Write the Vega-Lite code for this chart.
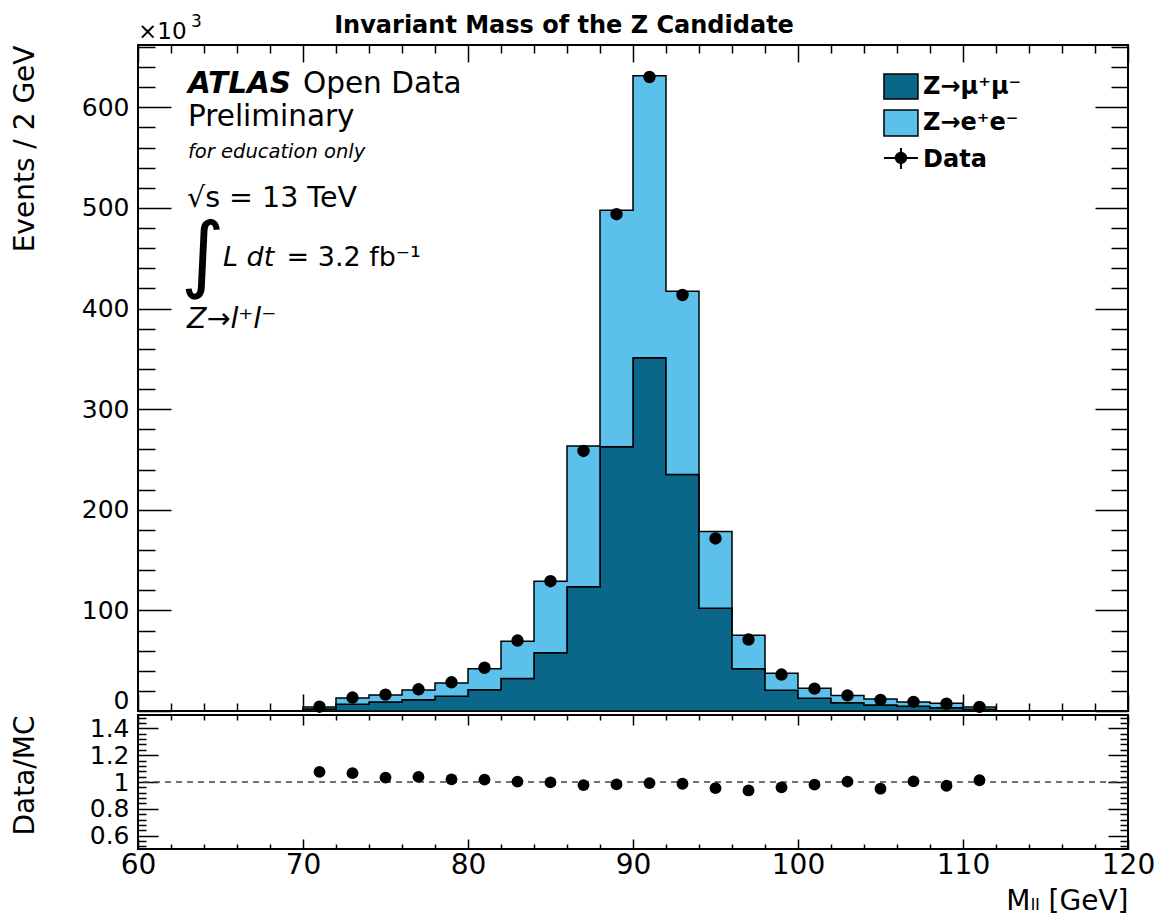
{
  "$schema": "https://vega.github.io/schema/vega-lite/v6.json",
  "background": "white",
  "padding": {"left": 10, "top": 11, "right": 5, "bottom": 0},
  "spacing": 4,
  "bounds": "flush",
  "datasets": {
    "bins": [
      {"lo": 60, "mid": 61, "mumu": 0, "ee": 0, "data": 0, "ratio": null},
      {"lo": 62, "mid": 63, "mumu": 0, "ee": 0, "data": 0, "ratio": null},
      {"lo": 64, "mid": 65, "mumu": 0, "ee": 0, "data": 0, "ratio": null},
      {"lo": 66, "mid": 67, "mumu": 0, "ee": 0, "data": 0, "ratio": null},
      {"lo": 68, "mid": 69, "mumu": 0, "ee": 0, "data": 0, "ratio": null},
      {"lo": 70, "mid": 71, "mumu": 2.0, "ee": 2.0, "data": 4.3, "ratio": 1.076},
      {"lo": 72, "mid": 73, "mumu": 6.6, "ee": 6.3, "data": 13.4, "ratio": 1.066},
      {"lo": 74, "mid": 75, "mumu": 9.0, "ee": 6.9, "data": 16.3, "ratio": 1.033},
      {"lo": 76, "mid": 77, "mumu": 11.3, "ee": 9.6, "data": 21.6, "ratio": 1.038},
      {"lo": 78, "mid": 79, "mumu": 14.6, "ee": 13.3, "data": 28.5, "ratio": 1.020},
      {"lo": 80, "mid": 81, "mumu": 21.2, "ee": 20.9, "data": 43.0, "ratio": 1.018},
      {"lo": 82, "mid": 83, "mumu": 32.2, "ee": 37.1, "data": 70.0, "ratio": 1.003},
      {"lo": 84, "mid": 85, "mumu": 57.8, "ee": 71.2, "data": 129.0, "ratio": 0.997},
      {"lo": 86, "mid": 87, "mumu": 123.5, "ee": 140.0, "data": 258.5, "ratio": 0.977},
      {"lo": 88, "mid": 89, "mumu": 262.7, "ee": 235.1, "data": 493.8, "ratio": 0.982},
      {"lo": 90, "mid": 91, "mumu": 351.2, "ee": 280.2, "data": 630.2, "ratio": 0.992},
      {"lo": 92, "mid": 93, "mumu": 235.0, "ee": 182.3, "data": 413.5, "ratio": 0.987},
      {"lo": 94, "mid": 95, "mumu": 102.1, "ee": 76.4, "data": 171.5, "ratio": 0.954},
      {"lo": 96, "mid": 97, "mumu": 42.1, "ee": 33.3, "data": 71.0, "ratio": 0.937},
      {"lo": 98, "mid": 99, "mumu": 20.6, "ee": 16.9, "data": 36.2, "ratio": 0.960},
      {"lo": 100, "mid": 101, "mumu": 12.6, "ee": 10.0, "data": 22.2, "ratio": 0.980},
      {"lo": 102, "mid": 103, "mumu": 8.3, "ee": 7.0, "data": 15.5, "ratio": 1.003},
      {"lo": 104, "mid": 105, "mumu": 6.0, "ee": 5.9, "data": 11.1, "ratio": 0.950},
      {"lo": 106, "mid": 107, "mumu": 4.6, "ee": 4.4, "data": 9.1, "ratio": 1.005},
      {"lo": 108, "mid": 109, "mumu": 3.3, "ee": 4.3, "data": 7.2, "ratio": 0.972},
      {"lo": 110, "mid": 111, "mumu": 1.7, "ee": 2.3, "data": 4.1, "ratio": 1.013},
      {"lo": 112, "mid": 113, "mumu": 0, "ee": 0, "data": 0, "ratio": null},
      {"lo": 114, "mid": 115, "mumu": 0, "ee": 0, "data": 0, "ratio": null},
      {"lo": 116, "mid": 117, "mumu": 0, "ee": 0, "data": 0, "ratio": null},
      {"lo": 118, "mid": 119, "mumu": 0, "ee": 0, "data": 0, "ratio": null}
    ]
  },
  "vconcat": [
    {
      "width": 990,
      "height": 666,
      "layer": [
        {
          "data": {"name": "bins"},
          "transform": [{"fold": ["mumu", "ee"], "as": ["process", "events"]}],
          "mark": {"type": "area", "interpolate": "step-after", "stroke": "black", "strokeWidth": 1.5, "opacity": 1},
          "encoding": {
            "x": {"field": "lo", "type": "quantitative", "scale": {"domain": [60, 120], "nice": false, "zero": false},
              "axis": {"orient": "bottom", "values": [60,62,64,66,68,70,72,74,76,78,80,82,84,86,88,90,92,94,96,98,100,102,104,106,108,110,112,114,116,118,120],
                "labels": false, "title": null,
                "tickSize": {"condition": {"test": "datum.value % 10 === 0", "value": -17}, "value": -8}}},
            "y": {"field": "events", "type": "quantitative", "stack": "zero", "scale": {"domain": [0, 662], "nice": false},
              "axis": {"orient": "left", "values": [0,20,40,60,80,100,120,140,160,180,200,220,240,260,280,300,320,340,360,380,400,420,440,460,480,500,520,540,560,580,600,620,640,660],
                "format": "d", "labelExpr": "datum.value % 100 === 0 ? datum.label : ''", "labelFontSize": 25, "labelPadding": 42,
                "labelBaseline": {"condition": {"test": "datum.value === 0", "value": "alphabetic"}, "value": "middle"},
                "labelOffset": {"condition": {"test": "datum.value === 0", "value": -3}, "value": 0},
                "tickSize": {"condition": {"test": "datum.value % 100 === 0", "value": -33}, "value": -17},
                "title": "Events / 2 GeV", "titleFontSize": 28, "titleAnchor": "end", "titleX": -105, "titleBaseline": "alphabetic"}},
            "color": {"field": "process", "type": "nominal", "scale": {"domain": ["mumu", "ee"], "range": ["#0b6789", "#5bc1eb"]}, "legend": null},
            "order": {"field": "process", "sort": "descending"}
          }
        },
        {
          "data": {"name": "bins"},
          "mark": {"type": "point", "opacity": 0},
          "encoding": {
            "x": {"field": "mid", "type": "quantitative", "scale": {"domain": [60, 120], "nice": false, "zero": false},
              "axis": {"orient": "top", "values": [60,62,64,66,68,70,72,74,76,78,80,82,84,86,88,90,92,94,96,98,100,102,104,106,108,110,112,114,116,118,120],
                "labels": false, "title": null,
                "tickSize": {"condition": {"test": "datum.value % 10 === 0", "value": -17}, "value": -8}}},
            "y": {"field": "data", "type": "quantitative", "scale": {"domain": [0, 662], "nice": false},
              "axis": {"orient": "right", "values": [0,20,40,60,80,100,120,140,160,180,200,220,240,260,280,300,320,340,360,380,400,420,440,460,480,500,520,540,560,580,600,620,640,660],
                "labels": false, "title": null,
                "tickSize": {"condition": {"test": "datum.value % 100 === 0", "value": -33}, "value": -17}}}
          }
        },
        {
          "data": {"name": "bins"},
          "transform": [{"filter": "datum.data > 0"}],
          "mark": {"type": "point", "filled": true, "color": "black", "size": 154, "opacity": 1},
          "encoding": {
            "x": {"field": "mid", "type": "quantitative", "axis": null},
            "y": {"field": "data", "type": "quantitative", "axis": null}
          }
        },
        {
          "data": {"values": [{}]},
          "mark": {"type": "text", "text": "Invariant Mass of the Z Candidate", "font": "DejaVu Sans", "fontWeight": "bold", "fontSize": 24, "align": "center", "baseline": "alphabetic", "color": "black"},
          "encoding": {"x": {"datum": 85.82, "type": "quantitative", "axis": null}, "y": {"datum": 673.9, "type": "quantitative", "axis": null}}
        },
        {
          "data": {"values": [{}]},
          "mark": {"type": "text", "text": "×10", "font": "DejaVu Sans", "fontSize": 23, "align": "left", "baseline": "alphabetic", "color": "black"},
          "encoding": {"x": {"datum": 60, "type": "quantitative", "axis": null}, "y": {"datum": 668.0, "type": "quantitative", "axis": null}}
        },
        {
          "data": {"values": [{}]},
          "mark": {"type": "text", "text": "3", "font": "DejaVu Sans", "fontSize": 17, "align": "left", "baseline": "alphabetic", "color": "black"},
          "encoding": {"x": {"datum": 63.21, "type": "quantitative", "axis": null}, "y": {"datum": 679.9, "type": "quantitative", "axis": null}}
        },
        {
          "data": {"values": [{}]},
          "mark": {"type": "text", "text": "ATLAS", "font": "DejaVu Sans", "fontWeight": "bold", "fontStyle": "italic", "fontSize": 29.5, "align": "left", "baseline": "alphabetic", "color": "black"},
          "encoding": {"x": {"datum": 63.03, "type": "quantitative", "axis": null}, "y": {"datum": 614.3, "type": "quantitative", "axis": null}}
        },
        {
          "data": {"values": [{}]},
          "mark": {"type": "text", "text": "Open Data", "font": "DejaVu Sans", "fontSize": 29.5, "align": "left", "baseline": "alphabetic", "color": "black"},
          "encoding": {"x": {"datum": 70.0, "type": "quantitative", "axis": null}, "y": {"datum": 614.3, "type": "quantitative", "axis": null}}
        },
        {
          "data": {"values": [{}]},
          "mark": {"type": "text", "text": "Preliminary", "font": "DejaVu Sans", "fontSize": 29.5, "align": "left", "baseline": "alphabetic", "color": "black"},
          "encoding": {"x": {"datum": 63.03, "type": "quantitative", "axis": null}, "y": {"datum": 581.5, "type": "quantitative", "axis": null}}
        },
        {
          "data": {"values": [{}]},
          "mark": {"type": "text", "text": "for education only", "font": "DejaVu Sans", "fontStyle": "italic", "fontSize": 19.5, "align": "left", "baseline": "alphabetic", "color": "black"},
          "encoding": {"x": {"datum": 63.03, "type": "quantitative", "axis": null}, "y": {"datum": 549.7, "type": "quantitative", "axis": null}}
        },
        {
          "data": {"values": [{}]},
          "mark": {"type": "text", "text": "√s = 13 TeV", "font": "DejaVu Sans", "fontSize": 28.5, "align": "left", "baseline": "alphabetic", "color": "black"},
          "encoding": {"x": {"datum": 62.97, "type": "quantitative", "axis": null}, "y": {"datum": 501.0, "type": "quantitative", "axis": null}}
        },
        {
          "data": {"values": [{}]},
          "mark": {"type": "text", "text": "∫", "font": "DejaVu Sans", "fontSize": 84, "align": "left", "baseline": "alphabetic", "color": "black"},
          "encoding": {"x": {"datum": 62.6, "type": "quantitative", "axis": null}, "y": {"datum": 426.4, "type": "quantitative", "axis": null}}
        },
        {
          "data": {"values": [{}]},
          "mark": {"type": "text", "text": "L dt", "font": "DejaVu Sans", "fontStyle": "italic", "fontSize": 27, "align": "left", "baseline": "alphabetic", "color": "black"},
          "encoding": {"x": {"datum": 65.15, "type": "quantitative", "axis": null}, "y": {"datum": 442.3, "type": "quantitative", "axis": null}}
        },
        {
          "data": {"values": [{}]},
          "mark": {"type": "text", "text": "= 3.2 fb⁻¹", "font": "DejaVu Sans", "fontSize": 27, "align": "left", "baseline": "alphabetic", "color": "black"},
          "encoding": {"x": {"datum": 69.0, "type": "quantitative", "axis": null}, "y": {"datum": 442.3, "type": "quantitative", "axis": null}}
        },
        {
          "data": {"values": [{}]},
          "mark": {"type": "text", "text": "Z→l⁺l⁻", "font": "DejaVu Sans", "fontStyle": "italic", "fontSize": 28.5, "align": "left", "baseline": "alphabetic", "color": "black"},
          "encoding": {"x": {"datum": 62.97, "type": "quantitative", "axis": null}, "y": {"datum": 380.7, "type": "quantitative", "axis": null}}
        },
        {
          "data": {"values": [{}]},
          "mark": {"type": "rect", "fill": "#0b6789", "stroke": "black", "strokeWidth": 1.5},
          "encoding": {"x": {"datum": 105.21, "type": "quantitative", "axis": null}, "x2": {"datum": 107.27}, "y": {"datum": 633.2, "type": "quantitative", "axis": null}, "y2": {"datum": 608.3}}
        },
        {
          "data": {"values": [{}]},
          "mark": {"type": "rect", "fill": "#5bc1eb", "stroke": "black", "strokeWidth": 1.5},
          "encoding": {"x": {"datum": 105.21, "type": "quantitative", "axis": null}, "x2": {"datum": 107.27}, "y": {"datum": 597.4, "type": "quantitative", "axis": null}, "y2": {"datum": 571.6}}
        },
        {
          "data": {"values": [{}]},
          "mark": {"type": "rule", "color": "black", "strokeWidth": 2},
          "encoding": {"x": {"datum": 105.21, "type": "quantitative", "axis": null}, "x2": {"datum": 107.27}, "y": {"datum": 549.7, "type": "quantitative", "axis": null}}
        },
        {
          "data": {"values": [{}]},
          "mark": {"type": "rule", "color": "black", "strokeWidth": 2},
          "encoding": {"x": {"datum": 106.24, "type": "quantitative", "axis": null}, "y": {"datum": 559.6, "type": "quantitative", "axis": null}, "y2": {"datum": 538.8}}
        },
        {
          "data": {"values": [{}]},
          "mark": {"type": "point", "filled": true, "color": "black", "size": 154, "opacity": 1},
          "encoding": {"x": {"datum": 106.24, "type": "quantitative", "axis": null}, "y": {"datum": 549.7, "type": "quantitative", "axis": null}}
        },
        {
          "data": {"values": [{}]},
          "mark": {"type": "text", "text": "Z→μ⁺μ⁻", "font": "DejaVu Sans", "fontWeight": "bold", "fontSize": 24, "align": "left", "baseline": "alphabetic", "color": "black"},
          "encoding": {"x": {"datum": 107.58, "type": "quantitative", "axis": null}, "y": {"datum": 613.0, "type": "quantitative", "axis": null}}
        },
        {
          "data": {"values": [{}]},
          "mark": {"type": "text", "text": "Z→e⁺e⁻", "font": "DejaVu Sans", "fontWeight": "bold", "fontSize": 24, "align": "left", "baseline": "alphabetic", "color": "black"},
          "encoding": {"x": {"datum": 107.58, "type": "quantitative", "axis": null}, "y": {"datum": 577.2, "type": "quantitative", "axis": null}}
        },
        {
          "data": {"values": [{}]},
          "mark": {"type": "text", "text": "Data", "font": "DejaVu Sans", "fontWeight": "bold", "fontSize": 24, "align": "left", "baseline": "alphabetic", "color": "black"},
          "encoding": {"x": {"datum": 107.58, "type": "quantitative", "axis": null}, "y": {"datum": 541.0, "type": "quantitative", "axis": null}}
        }
      ],
      "resolve": {"axis": {"x": "independent", "y": "independent"}}
    },
    {
      "width": 990,
      "height": 134,
      "layer": [
        {
          "data": {"values": [{}]},
          "mark": {"type": "rule", "color": "#444444", "strokeWidth": 1.5, "strokeDash": [6, 5]},
          "encoding": {"y": {"datum": 1, "type": "quantitative", "axis": null}}
        },
        {
          "data": {"name": "bins"},
          "transform": [{"filter": "isValid(datum.ratio)"}],
          "mark": {"type": "point", "filled": true, "color": "black", "size": 140, "opacity": 1},
          "encoding": {
            "x": {"field": "mid", "type": "quantitative", "scale": {"domain": [60, 120], "nice": false, "zero": false},
              "axis": {"orient": "bottom", "values": [60,62,64,66,68,70,72,74,76,78,80,82,84,86,88,90,92,94,96,98,100,102,104,106,108,110,112,114,116,118,120],
                "format": "d", "labelExpr": "datum.value % 10 === 0 ? datum.label : ''", "labelFontSize": 28, "labelPadding": 12,
                "tickSize": {"condition": {"test": "datum.value % 10 === 0", "value": -10}, "value": -5},
                "title": "Mₗₗ [GeV]", "titleFontSize": 28, "titleAnchor": "end", "titlePadding": 3}},
            "y": {"field": "ratio", "type": "quantitative", "scale": {"domain": [0.5, 1.5], "nice": false, "zero": false},
              "axis": {"orient": "left", "values": [0.52,0.56,0.6,0.64,0.68,0.72,0.76,0.8,0.84,0.88,0.92,0.96,1,1.04,1.08,1.12,1.16,1.2,1.24,1.28,1.32,1.36,1.4,1.44,1.48],
                "format": "~g", "labelExpr": "indexof([0.6, 0.8, 1, 1.2, 1.4], datum.value) >= 0 ? datum.label : ''", "labelFontSize": 25, "labelPadding": 29,
                "tickSize": {"condition": {"test": "indexof([0.6, 0.8, 1, 1.2, 1.4], datum.value) >= 0", "value": -20}, "value": -8},
                "title": "Data/MC", "titleFontSize": 28, "titleAnchor": "end", "titleX": -105, "titleBaseline": "alphabetic"}}
          }
        },
        {
          "data": {"name": "bins"},
          "transform": [{"filter": "isValid(datum.ratio)"}],
          "mark": {"type": "point", "opacity": 0},
          "encoding": {
            "x": {"field": "mid", "type": "quantitative", "scale": {"domain": [60, 120], "nice": false, "zero": false},
              "axis": {"orient": "top", "values": [60,62,64,66,68,70,72,74,76,78,80,82,84,86,88,90,92,94,96,98,100,102,104,106,108,110,112,114,116,118,120],
                "labels": false, "title": null,
                "tickSize": {"condition": {"test": "datum.value % 10 === 0", "value": -10}, "value": -5}}},
            "y": {"field": "ratio", "type": "quantitative", "scale": {"domain": [0.5, 1.5], "nice": false, "zero": false},
              "axis": {"orient": "right", "values": [0.52,0.56,0.6,0.64,0.68,0.72,0.76,0.8,0.84,0.88,0.92,0.96,1,1.04,1.08,1.12,1.16,1.2,1.24,1.28,1.32,1.36,1.4,1.44,1.48],
                "labels": false, "title": null,
                "tickSize": {"condition": {"test": "indexof([0.6, 0.8, 1, 1.2, 1.4], datum.value) >= 0", "value": -20}, "value": -8}}}
          }
        }
      ],
      "resolve": {"axis": {"x": "independent", "y": "independent"}}
    }
  ],
  "config": {
    "view": {"stroke": "black", "strokeWidth": 2},
    "axis": {"labelFont": "DejaVu Sans", "titleFont": "DejaVu Sans", "labelColor": "black", "titleColor": "black", "tickColor": "black", "tickWidth": 1.5,
      "grid": false, "domain": false, "titleFontWeight": "normal", "labelOverlap": false, "labelFlush": false, "labelBound": false, "zindex": 1, "minExtent": 0}
  }
}
